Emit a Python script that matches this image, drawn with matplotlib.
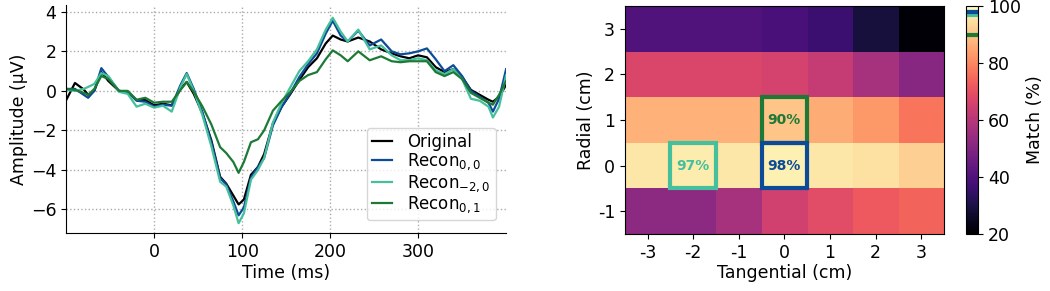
import numpy as np
import matplotlib
matplotlib.use('Agg')
import matplotlib.pyplot as plt
from matplotlib.patches import Rectangle

# tiempos (ms) y amplitudes
t = [-100, -90, -80, -75, -68, -60, -52, -40, -30, -20, -10, 0, 10, 20, 30, 37, 45,
     55, 65, 75, 82, 90, 96, 102, 110, 118, 125, 135, 145, 155, 165, 175, 185,
     195, 203, 212, 220, 232, 245, 258, 270, 280, 290, 300, 310, 320, 330, 340,
     350, 360, 370, 380, 385, 392, 400]

original = [-0.47, 0.4, 0.07, -0.2, 0.0, 0.95, 0.5, 0.0, -0.05, -0.47, -0.47, -0.73, -0.65, -0.73, 0.1, 0.45, -0.15,
            -1.15, -2.5, -4.35, -4.7, -5.3, -5.75, -5.5, -4.25, -3.85, -3.2, -1.65, -0.8, -0.15, 0.55, 1.2, 1.65,
            2.4, 2.8, 2.6, 2.5, 2.7, 2.5, 2.1, 1.9, 1.75, 1.65, 1.8, 1.7, 1.2, 0.95, 1.1,
            0.7, 0.05, -0.2, -0.45, -0.55, -0.3, 0.3]
recon_00 = [0.1, 0.1, -0.2, -0.35, 0.0, 1.15, 0.7, 0.0, -0.05, -0.5, -0.55, -0.8, -0.7, -0.75, 0.3, 0.9, 0.1,
            -1.1, -2.6, -4.4, -4.75, -5.6, -6.3, -5.9, -4.4, -3.85, -3.4, -1.75, -0.8, -0.1, 0.7, 1.35, 1.9,
            2.9, 3.55, 2.8, 2.5, 3.05, 2.3, 2.6, 2.0, 1.85, 1.9, 2.0, 2.15, 1.6, 1.0, 1.3,
            0.75, 0.0, -0.3, -0.6, -1.05, -0.4, 1.1]
recon_m20 = [0.05, 0.0, 0.1, 0.2, 0.35, 0.9, 0.75, -0.05, -0.15, -0.8, -0.65, -0.85, -0.75, -1.05, 0.2, 0.85, 0.0,
             -1.25, -2.8, -4.6, -4.85, -5.8, -6.7, -6.2, -4.5, -4.0, -3.4, -1.6, -0.6, 0.2, 1.0, 1.5, 2.1,
             3.1, 3.7, 3.0, 2.5, 3.1, 2.1, 2.3, 1.8, 1.55, 1.55, 1.65, 1.55, 1.05, 0.85, 1.1,
             0.6, -0.4, -0.5, -0.8, -1.35, -0.8, 0.8]
recon_01 = [0.1, 0.05, -0.1, -0.2, 0.1, 0.75, 0.6, 0.0, 0.0, -0.45, -0.35, -0.6, -0.55, -0.55, 0.05, 0.45, -0.05,
            -0.8, -1.7, -2.85, -3.15, -3.6, -4.15, -3.6, -2.6, -2.45, -2.0, -1.0, -0.5, -0.05, 0.5, 0.8, 0.95,
            1.6, 2.05, 1.8, 1.5, 2.0, 1.55, 1.75, 1.5, 1.45, 1.5, 1.5, 1.5, 0.95, 0.75, 0.95,
            0.6, -0.1, -0.35, -0.6, -0.7, -0.2, 0.5]

# mapa de coincidencia (%), filas radial 3..-1, columnas tangencial -3..3
tangencial = [-3, -2, -1, 0, 1, 2, 3]
radial = [3, 2, 1, 0, -1]
match = np.array([
    [40, 40, 40, 39, 36, 29, 21],
    [67, 67, 67, 66, 63, 57, 51],
    [87, 87, 87, 90, 86, 83, 77],
    [96, 97, 96, 98, 96, 95, 92],
    [52, 52, 57, 65, 69, 72, 74],
])

c_orig = 'black'
c_00 = '#0b4b97'
c_m20 = '#45bf9c'
c_01 = '#1c7a36'

plt.rcParams['font.size'] = 12.5

fig = plt.figure(figsize=(10.5, 2.91), dpi=100)

# Se grafican las senales
ax = fig.add_axes([0.063, 0.199, 0.419, 0.784])
ax.plot(t, original, color=c_orig, linewidth=1.6, label='Original', solid_joinstyle='round')
ax.plot(t, recon_00, color=c_00, linewidth=1.6, label='Recon$_{0,0}$', solid_joinstyle='round')
ax.plot(t, recon_m20, color=c_m20, linewidth=1.6, label='Recon$_{-2,0}$', solid_joinstyle='round')
ax.plot(t, recon_01, color=c_01, linewidth=1.6, label='Recon$_{0,1}$', solid_joinstyle='round')
ax.set_xlim(-100, 400)
ax.set_ylim(-7.2, 4.35)
ax.set_xticks([0, 100, 200, 300])
ax.set_yticks([-6, -4, -2, 0, 2, 4])
ax.grid(True, linestyle=':', color='#aaaaaa', linewidth=1)
ax.spines['top'].set_visible(False)
ax.spines['right'].set_visible(False)
ax.set_xlabel('Time (ms)', labelpad=2)
ax.set_ylabel('Amplitude (µV)', labelpad=2)
ax.legend(loc='lower right', fontsize=12, handlelength=1.2, borderpad=0.3,
          labelspacing=0.05, handletextpad=0.9, framealpha=0.8,
          bbox_to_anchor=(0.995, 0.02))

# Mapa de calor
ax2 = fig.add_axes([0.595, 0.196, 0.304, 0.783])
im = ax2.imshow(match, cmap='magma', vmin=20, vmax=100, aspect='auto',
                extent=[tangencial[0] - 0.5, tangencial[-1] + 0.5,
                        radial[-1] - 0.5, radial[0] + 0.5])
ax2.set_xticks(tangencial)
ax2.set_xticklabels([str(v) for v in tangencial])
ax2.set_yticks(radial)
ax2.set_yticklabels([str(v) for v in radial])
ax2.set_xlabel('Tangential (cm)', labelpad=2)
ax2.set_ylabel('Radial (cm)', labelpad=2)

cajas = [(0, 1, c_01), (-2, 0, c_m20), (0, 0, c_00)]
for tx, ry, col in cajas:
    ax2.add_patch(Rectangle((tx - 0.5, ry - 0.5), 1, 1, fill=False,
                            edgecolor=col, linewidth=3, zorder=3))
    val = match[radial.index(ry), tangencial.index(tx)]
    ax2.text(tx, ry, '%d%%' % val, color=col, fontsize=10, fontweight='bold',
             ha='center', va='center')

cax = fig.add_axes([0.92, 0.196, 0.0114, 0.783])
cb = fig.colorbar(im, cax=cax)
cb.set_ticks([20, 40, 60, 80, 100])
cb.set_label('Match (%)')
for tx, ry, col in cajas:
    cax.axhline(match[radial.index(ry), tangencial.index(tx)], color=col, linewidth=3)

fig.savefig('out.png', dpi=100)
